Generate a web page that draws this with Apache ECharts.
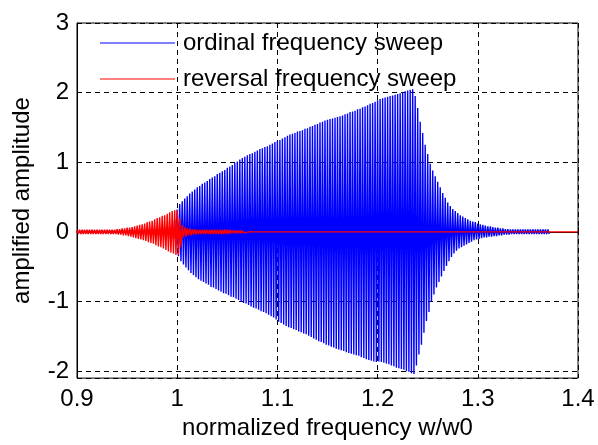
<!DOCTYPE html>
<html>
<head>
<meta charset="utf-8">
<script src="https://cdn.jsdelivr.net/npm/echarts@6/dist/echarts.min.js"></script>
<style>
  html, body { margin: 0; padding: 0; background: #fff; }
  #chart { width: 598px; height: 445px; }
</style>
</head>
<body>
<div id="chart"></div>
<script>
// sample grid of the swept signals (w/w0)
const sweepStart = 0.9
const sweepStep = 0.0025

// ordinal sweep: upper / lower envelope of the oscillation
const ordinalUpper = [
  0.02, 0.02, 0.02, 0.02, 0.02, 0.02, 0.02, 0.02, 0.02, 0.02,
  0.02, 0.02, 0.02, 0.02, 0.02, 0.02, 0.02, 0.02, 0.02, 0.02,
  0.03, 0.03, 0.03, 0.03, 0.03, 0.03, 0.03, 0.03, 0.04, 0.04,
  0.04, 0.04, 0.05, 0.05, 0.05, 0.06, 0.06, 0.07, 0.10, 0.18,
  0.32, 0.40, 0.44, 0.48, 0.51, 0.55, 0.58, 0.61, 0.64, 0.66,
  0.69, 0.71, 0.73, 0.76, 0.78, 0.80, 0.83, 0.85, 0.87, 0.89,
  0.92, 0.94, 0.96, 0.99, 1.01, 1.04, 1.06, 1.08, 1.10, 1.12,
  1.13, 1.15, 1.17, 1.19, 1.20, 1.22, 1.23, 1.25, 1.27, 1.29,
  1.31, 1.32, 1.34, 1.36, 1.38, 1.40, 1.41, 1.42, 1.44, 1.45,
  1.46, 1.48, 1.49, 1.51, 1.52, 1.54, 1.55, 1.57, 1.58, 1.60,
  1.61, 1.62, 1.63, 1.64, 1.65, 1.66, 1.67, 1.69, 1.70, 1.72,
  1.73, 1.74, 1.76, 1.77, 1.79, 1.80, 1.82, 1.84, 1.85, 1.87,
  1.89, 1.91, 1.92, 1.93, 1.94, 1.95, 1.96, 1.97, 1.98, 1.99,
  2.00, 2.02, 2.03, 2.04, 2.05, 1.95, 1.78, 1.58, 1.42, 1.25,
  1.12, 0.98, 0.88, 0.80, 0.72, 0.64, 0.56, 0.49, 0.42, 0.37,
  0.33, 0.30, 0.27, 0.24, 0.22, 0.20, 0.18, 0.16, 0.15, 0.14,
  0.12, 0.11, 0.10, 0.09, 0.08, 0.08, 0.07, 0.06, 0.06, 0.05,
  0.05, 0.04, 0.04, 0.035, 0.035, 0.035, 0.035, 0.035, 0.035, 0.035,
  0.035, 0.035, 0.035, 0.035, 0.035, 0.035, 0.035, 0.035, 0.035
]
const ordinalLower = [
  -0.02, -0.02, -0.02, -0.02, -0.02, -0.02, -0.02, -0.02, -0.02, -0.02,
  -0.02, -0.02, -0.02, -0.02, -0.02, -0.02, -0.02, -0.02, -0.02, -0.02,
  -0.03, -0.03, -0.03, -0.03, -0.03, -0.03, -0.03, -0.03, -0.04, -0.04,
  -0.04, -0.04, -0.05, -0.05, -0.05, -0.06, -0.06, -0.07, -0.10, -0.20,
  -0.35, -0.42, -0.47, -0.51, -0.55, -0.59, -0.62, -0.65, -0.68, -0.70,
  -0.72, -0.74, -0.76, -0.79, -0.80, -0.82, -0.84, -0.86, -0.88, -0.89,
  -0.91, -0.93, -0.94, -0.96, -0.98, -1.00, -1.02, -1.03, -1.05, -1.07,
  -1.09, -1.10, -1.12, -1.14, -1.15, -1.17, -1.19, -1.21, -1.23, -1.26,
  -1.29, -1.31, -1.33, -1.35, -1.37, -1.38, -1.40, -1.41, -1.43, -1.44,
  -1.46, -1.47, -1.49, -1.51, -1.53, -1.55, -1.57, -1.58, -1.60, -1.62,
  -1.63, -1.65, -1.66, -1.68, -1.69, -1.70, -1.71, -1.73, -1.74, -1.75,
  -1.76, -1.77, -1.78, -1.80, -1.81, -1.83, -1.84, -1.85, -1.86, -1.87,
  -1.86, -1.87, -1.88, -1.89, -1.90, -1.92, -1.93, -1.95, -1.96, -1.97,
  -1.98, -2.00, -2.01, -2.03, -2.04, -1.92, -1.76, -1.62, -1.45, -1.28,
  -1.15, -1.00, -0.90, -0.80, -0.72, -0.64, -0.56, -0.49, -0.42, -0.36,
  -0.31, -0.27, -0.24, -0.22, -0.20, -0.18, -0.16, -0.14, -0.12, -0.11,
  -0.10, -0.09, -0.08, -0.08, -0.07, -0.07, -0.06, -0.06, -0.05, -0.05,
  -0.04, -0.04, -0.04, -0.03, -0.03, -0.03, -0.03, -0.03, -0.03, -0.03,
  -0.03, -0.03, -0.03, -0.03, -0.03, -0.03, -0.03, -0.03, -0.03
]

// reversal sweep: envelope of the oscillating part, then flat after ~1.07
const reversalUpper = [
  0.03, 0.03, 0.03, 0.03, 0.03, 0.03, 0.03, 0.03, 0.03, 0.03,
  0.03, 0.03, 0.03, 0.03, 0.03, 0.03, 0.04, 0.04, 0.05, 0.05,
  0.06, 0.06, 0.07, 0.08, 0.09, 0.10, 0.11, 0.12, 0.14, 0.15,
  0.16, 0.18, 0.20, 0.21, 0.23, 0.24, 0.26, 0.28, 0.30, 0.31,
  0.31, 0.20, 0.10, 0.07, 0.05, 0.05, 0.04, 0.04, 0.03, 0.03,
  0.03, 0.03, 0.03, 0.03, 0.03, 0.03, 0.03, 0.03, 0.03, 0.03,
  0.03, 0.03, 0.02, 0.02, 0.02, 0.02, 0.02, 0.01, 0
]
const reversalLower = [
  -0.03, -0.03, -0.03, -0.03, -0.03, -0.03, -0.03, -0.03, -0.03, -0.03,
  -0.03, -0.03, -0.03, -0.03, -0.03, -0.03, -0.04, -0.04, -0.05, -0.05,
  -0.06, -0.07, -0.08, -0.09, -0.10, -0.11, -0.12, -0.13, -0.15, -0.16,
  -0.17, -0.19, -0.21, -0.22, -0.24, -0.26, -0.28, -0.30, -0.31, -0.33,
  -0.33, -0.22, -0.08, -0.07, -0.05, -0.05, -0.04, -0.04, -0.03, -0.03,
  -0.03, -0.03, -0.03, -0.03, -0.03, -0.03, -0.03, -0.03, -0.03, -0.03,
  -0.03, -0.02, -0.02, -0.02, -0.02, -0.02, -0.01, -0.01, 0
]
const reversalTailX = [1.0725, 1.4]
const reversalTailY = [0, 0]

const xTicks = [0.9, 1.0, 1.1, 1.2, 1.3, 1.4]

// trace the oscillation: peak at each grid point, trough half a step later
function toPoints(upper, lower) {
  const pts = []
  upper.forEach((u, i) => {
    const x = sweepStart + i * sweepStep
    pts.push([+x.toFixed(5), u])
    pts.push([+(x + sweepStep / 2).toFixed(5), lower[i]])
  })
  return pts
}

const ordinalData = toPoints(ordinalUpper, ordinalLower)
const reversalData = toPoints(reversalUpper, reversalLower).concat(
  reversalTailX.map((x, i) => [x, reversalTailY[i]])
)

const font = 'Liberation Sans, Arial, sans-serif'
const fs = 24
const dashed = { color: '#000', width: 1, type: [5, 4] }

const chart = echarts.init(document.getElementById('chart'), null, { renderer: 'canvas' })
chart.setOption({
  animation: false,
  backgroundColor: '#fff',
  textStyle: { fontFamily: font },
  grid: {
    left: 77, right: 20, top: 23, bottom: 66,
    show: true, borderColor: '#000', borderWidth: 1, backgroundColor: 'transparent'
  },
  legend: {
    orient: 'vertical',
    left: 95,
    top: 25,
    itemWidth: 75,
    itemHeight: 1,
    itemGap: 10,
    icon: 'rect',
    textStyle: { fontSize: fs, color: '#000', lineHeight: 26, fontFamily: font, padding: [0, 0, 0, 3] },
    data: ['ordinal frequency sweep', 'reversal frequency sweep']
  },
  xAxis: {
    type: 'value',
    min: xTicks[0],
    max: xTicks[xTicks.length - 1],
    interval: 0.1,
    name: 'normalized frequency w/w0',
    nameLocation: 'middle',
    nameGap: 36,
    nameTextStyle: { fontSize: fs, color: '#000', fontFamily: font },
    axisLine: { show: true, lineStyle: { color: '#000', width: 1 } },
    axisTick: { show: true, inside: true, length: 5, lineStyle: { color: '#000' } },
    axisLabel: { fontSize: fs, color: '#000', margin: 9, fontFamily: font },
    splitLine: { show: true, lineStyle: dashed }
  },
  yAxis: {
    type: 'value',
    min: -2.1,
    max: 3,
    splitNumber: 5,
    name: 'amplified amplitude',
    nameLocation: 'middle',
    nameGap: 43,
    nameTextStyle: { fontSize: fs, color: '#000', fontFamily: font },
    axisLine: { show: true, lineStyle: { color: '#000', width: 1 } },
    axisTick: { show: true, inside: true, length: 5, lineStyle: { color: '#000' } },
    axisLabel: {
      fontSize: fs, color: '#000', margin: 8, fontFamily: font,
      formatter: v => (Math.abs(v - Math.round(v)) < 1e-6 ? String(Math.round(v)) : '')
    },
    splitLine: { show: true, lineStyle: dashed }
  },
  series: [
    {
      name: 'ordinal frequency sweep',
      type: 'line',
      data: ordinalData,
      showSymbol: false,
      symbol: 'none',
      sampling: false,
      lineStyle: { color: '#0000ff', width: 1.4 },
      itemStyle: { color: '#0000ff' },
      z: 2
    },
    {
      name: 'reversal frequency sweep',
      type: 'line',
      data: reversalData,
      showSymbol: false,
      symbol: 'none',
      lineStyle: { color: '#ff0000', width: 1.4 },
      itemStyle: { color: '#ff0000' },
      z: 3
    }
  ]
})
</script>
</body>
</html>
